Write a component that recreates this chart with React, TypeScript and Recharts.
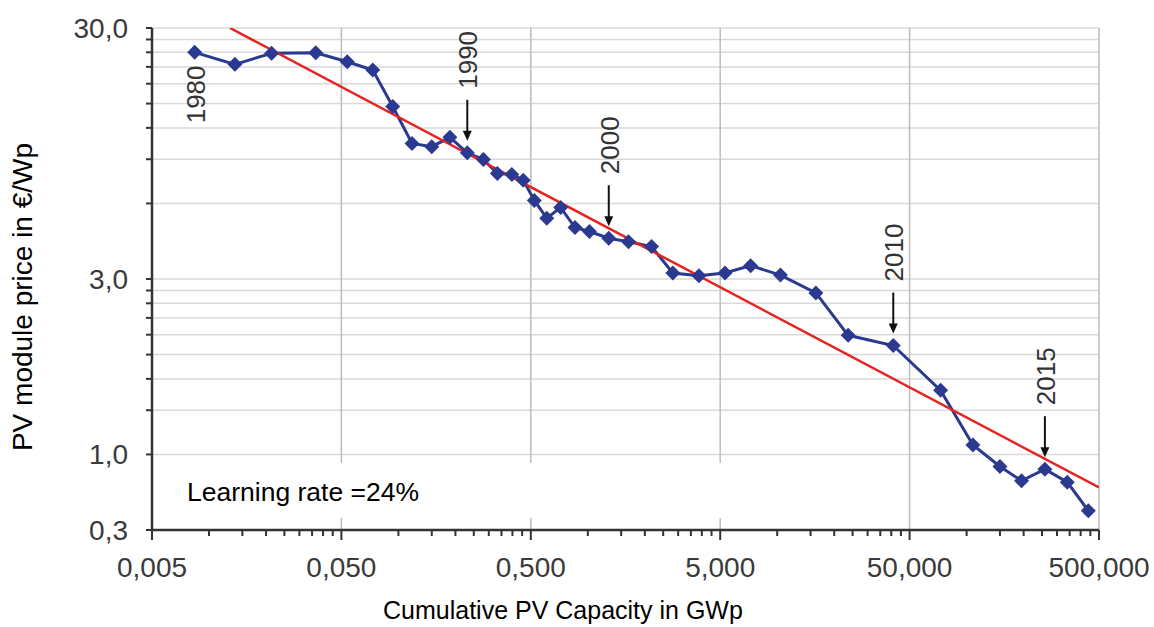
import { LineChart, Line, XAxis, YAxis, CartesianGrid, ReferenceLine, LabelList } from 'recharts';

// cumulative installed capacity (GWp) vs module price (€/Wp), one point per year
const YEARS = [
  1980, 1981, 1982, 1983, 1984, 1985, 1986, 1987, 1988, 1989,
  1990, 1991, 1992, 1993, 1994, 1995, 1996, 1997, 1998, 1999,
  2000, 2001, 2002, 2003, 2004, 2005, 2006, 2007, 2008, 2009,
  2010, 2011, 2012, 2013, 2014, 2015, 2016, 2017,
];
const CAPACITY = [
  0.0084, 0.0137, 0.0214, 0.0366, 0.0537, 0.0732, 0.0933, 0.118, 0.15, 0.187,
  0.231, 0.281, 0.333, 0.397, 0.456, 0.522, 0.607, 0.719, 0.856, 1.02,
  1.29, 1.64, 2.17, 2.81, 3.86, 5.3, 7.24, 10.4, 16.0, 23.7,
  41.0, 72.9, 108, 150, 195, 259, 340, 439,
];
const PRICE = [
  24.0, 21.5, 23.8, 23.9, 22.0, 20.4, 14.6, 10.4, 10.1, 11.0,
  9.55, 8.98, 7.9, 7.83, 7.43, 6.17, 5.24, 5.78, 4.81, 4.64,
  4.36, 4.22, 4.04, 3.17, 3.09, 3.17, 3.39, 3.11, 2.64, 1.79,
  1.63, 1.08, 0.654, 0.537, 0.471, 0.524, 0.465, 0.358,
];

// learning curve fit (24 % per doubling)
const TREND_X = [0.0129, 500];
const TREND_Y = [30, 0.443];

const X_MAJOR = [0.005, 0.05, 0.5, 5, 50, 500];
const X_LABELS = ['0,005', '0,050', '0,500', '5,000', '50,000', '500,000'];
const MINOR_STEPS = [1, 2, 3, 4, 5, 6, 7, 8, 9];
const Y_DECADES = [0.3, 3];
const Y_MAX = 30;
const Y_LABELED = [0.3, 0.6, 3, 30];
const Y_LABELS = ['0,3', '1,0', '3,0', '30,0'];
const MARKED_YEARS = [1980, 1990, 2000, 2010, 2015];

const FONT = '"Liberation Sans", Arial, sans-serif';
const BLUE = '#2b3990';
const RED = '#e52420';

const X_TICKS = X_MAJOR.slice(0, -1)
  .flatMap((b) => MINOR_STEPS.map((k) => b * k))
  .concat(X_MAJOR[X_MAJOR.length - 1]);
const Y_TICKS = Y_DECADES.flatMap((b) => MINOR_STEPS.map((k) => b * k)).concat(Y_MAX);

const same = (a: number, b: number) => Math.abs(a - b) / b < 1e-6;

const priceData = YEARS.map((year, i) => ({ year, x: CAPACITY[i], y: PRICE[i] }));
const trendData = TREND_X.map((x, i) => ({ x, y: TREND_Y[i] }));

function XTick(props: any) {
  const { x, y, payload } = props;
  const idx = X_MAJOR.findIndex((v) => same(payload.value, v));
  const major = idx >= 0;
  return (
    <g>
      <line x1={x} x2={x} y1={y} y2={y + (major ? 10 : 6)} stroke="#333" strokeWidth={2} />
      {major && (
        <text x={x} y={y + 47} textAnchor="middle" fontSize={28} fill="#3a3a3a" fontFamily={FONT}>
          {X_LABELS[idx]}
        </text>
      )}
    </g>
  );
}

function YTick(props: any) {
  const { x, y, payload } = props;
  const idx = Y_LABELED.findIndex((v) => same(payload.value, v));
  return (
    <g>
      <line x1={x - 6} x2={x} y1={y} y2={y} stroke="#333" strokeWidth={2} />
      {idx >= 0 && (
        <text x={x - 24} y={y + 10} textAnchor="end" fontSize={28} fill="#3a3a3a" fontFamily={FONT}>
          {Y_LABELS[idx]}
        </text>
      )}
    </g>
  );
}

function Diamond(props: any) {
  const { cx, cy } = props;
  if (cx == null || cy == null) return null;
  const r = 7.5;
  return (
    <path
      d={`M${cx},${cy - r} L${cx + r},${cy} L${cx},${cy + r} L${cx - r},${cy} Z`}
      fill={BLUE}
    />
  );
}

function YearMarker(props: any) {
  const { x, y, value } = props;
  if (!MARKED_YEARS.includes(value)) return null;
  const label = (bottom: number) => (
    <text
      transform={`translate(${x + 1},${bottom}) rotate(-90)`}
      fontSize={26}
      fill="#333"
      fontFamily={FONT}
      dominantBaseline="central"
    >
      {value}
    </text>
  );
  if (value === MARKED_YEARS[0]) return <g>{label(y + 71)}</g>;
  const tip = y - 12;
  return (
    <g>
      <line x1={x} x2={x} y1={y - 53} y2={tip - 8} stroke="#111" strokeWidth={2} />
      <path d={`M${x - 4.5},${tip - 10} L${x + 4.5},${tip - 10} L${x},${tip} Z`} fill="#111" />
      {label(y - 64)}
    </g>
  );
}

export default function App() {
  return (
    <div style={{ position: 'absolute', left: 0, top: 0, width: 1154, height: 627, background: '#fff', fontFamily: FONT }}>
      <LineChart width={1154} height={627} margin={{ top: 28, right: 55, bottom: 37, left: 52 }}>
        <CartesianGrid vertical={false} stroke="#d9d9d9" strokeWidth={1.5} />
        {X_MAJOR.slice(1).map((v) => (
          <ReferenceLine key={v} x={v} stroke="#bcbcbc" strokeWidth={1.5} />
        ))}
        <XAxis
          type="number"
          dataKey="x"
          scale="log"
          domain={[X_MAJOR[0], X_MAJOR[X_MAJOR.length - 1]]}
          allowDataOverflow
          ticks={X_TICKS}
          interval={0}
          height={60}
          tickSize={0}
          tickMargin={0}
          tick={(p: any) => <XTick {...p} />}
          axisLine={{ stroke: '#333', strokeWidth: 2.5 }}
        />
        <YAxis
          type="number"
          dataKey="y"
          scale="log"
          domain={[Y_DECADES[0], Y_MAX]}
          allowDataOverflow
          ticks={Y_TICKS}
          interval={0}
          width={100}
          tickSize={0}
          tickMargin={0}
          tick={(p: any) => <YTick {...p} />}
          axisLine={{ stroke: '#333', strokeWidth: 2.5 }}
        />
        <Line
          data={priceData}
          dataKey="y"
          type="linear"
          stroke={BLUE}
          strokeWidth={3}
          dot={(p: any) => <Diamond key={`d-${p.index}`} {...p} />}
          activeDot={false}
          isAnimationActive={false}
        >
          <LabelList dataKey="year" content={(p: any) => <YearMarker {...p} />} />
        </Line>
        <Line
          data={trendData}
          dataKey="y"
          type="linear"
          stroke={RED}
          strokeWidth={2.5}
          dot={false}
          activeDot={false}
          isAnimationActive={false}
        />
      </LineChart>

      <div
        style={{
          position: 'absolute',
          left: 155,
          top: 463,
          width: 692,
          height: 55,
          background: '#fff',
        }}
      >
        <div style={{ position: 'absolute', left: 32, top: 16, fontSize: 26.5, lineHeight: 1, color: '#000', whiteSpace: 'nowrap' }}>
          Learning rate =24%
        </div>
      </div>

      <div
        style={{
          position: 'absolute',
          left: 383,
          top: 598,
          fontSize: 25,
          lineHeight: 1,
          color: '#000',
          whiteSpace: 'nowrap',
        }}
      >
        Cumulative PV Capacity in GWp
      </div>

      <div
        style={{
          position: 'absolute',
          left: 23,
          top: 297,
          fontSize: 28,
          lineHeight: 1,
          color: '#000',
          whiteSpace: 'nowrap',
          transform: 'translate(-50%, -50%) rotate(-90deg)',
        }}
      >
        PV module price in €/Wp
      </div>
    </div>
  );
}
